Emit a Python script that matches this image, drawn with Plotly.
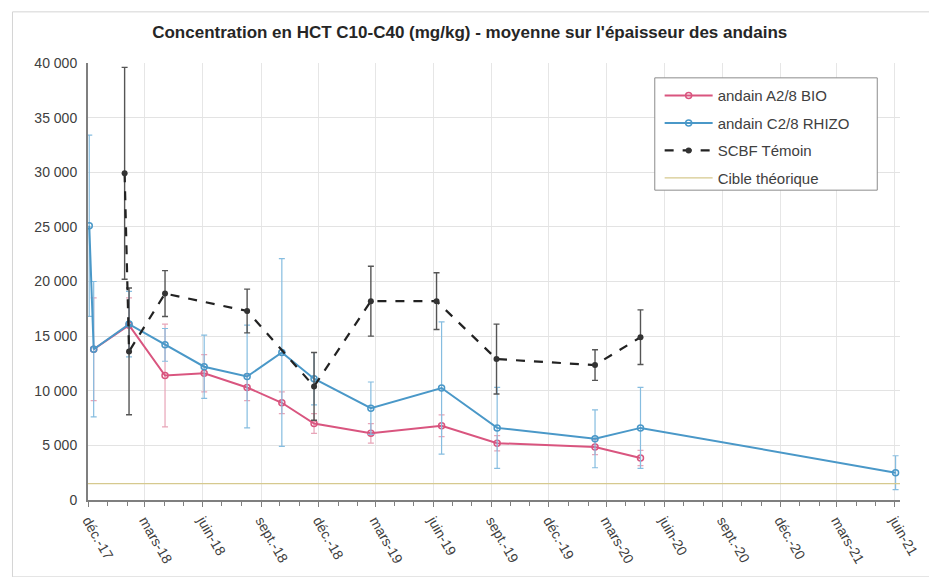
import plotly.graph_objects as go

# ---- data ----
blue_dates = ['2017-12-03', '2017-12-10', '2018-02-04', '2018-04-02', '2018-06-03', '2018-08-10',
              '2018-10-04', '2018-11-24', '2019-02-22', '2019-06-14', '2019-09-10', '2020-02-12',
              '2020-04-24', '2021-06-02']
blue_vals = [25100, 13800, 16100, 14200, 12200, 11300, 13500, 11100, 8400, 10250, 6600, 5600, 6600, 2500]
blue_err = [8300, 6200, 3000, 1500, 2900, 4700, 8600, 2400, 2400, 6050, 3700, 2650, 3700, 1550]

pink_dates = ['2017-12-10', '2018-02-04', '2018-04-02', '2018-06-03', '2018-08-10', '2018-10-04',
              '2018-11-24', '2019-02-22', '2019-06-14', '2019-09-10', '2020-02-12', '2020-04-24']
pink_vals = [13800, 16000, 11400, 11600, 10300, 8900, 7000, 6100, 6800, 5200, 4850, 3850]
pink_err = [4700, 2500, 4700, 1700, 1200, 1000, 900, 900, 1000, 700, 700, 700]

black_dates = ['2018-01-28', '2018-02-04', '2018-04-02', '2018-08-10', '2018-11-24', '2019-02-22',
               '2019-06-06', '2019-09-09', '2020-02-12', '2020-04-24']
black_vals = [29900, 13600, 18900, 17300, 10400, 18200, 18200, 12900, 12350, 14900]
black_err = [9700, 5800, 2100, 2000, 3100, 3200, 2600, 3200, 1400, 2500]

target_dates = ['2017-12-01', '2021-06-09']
target_vals = [1500, 1500]

tick_dates = ['2017-12-01', '2018-03-01', '2018-06-01', '2018-09-01', '2018-12-01', '2019-03-01',
              '2019-06-01', '2019-09-01', '2019-12-01', '2020-03-01', '2020-06-01', '2020-09-01',
              '2020-12-01', '2021-03-01', '2021-06-01']
tick_labels = ['déc.-17', 'mars-18', 'juin-18', 'sept.-18', 'déc.-18', 'mars-19', 'juin-19', 'sept.-19',
               'déc.-19', 'mars-20', 'juin-20', 'sept.-20', 'déc.-20', 'mars-21', 'juin-21']

PINK = '#d9557f'
BLUE = '#4a98c8'
BLACK = '#222222'
TARGET = '#d6c98e'

fig = go.Figure()

fig.add_trace(go.Scatter(
    x=pink_dates, y=pink_vals, name='andain A2/8 BIO', mode='lines+markers',
    line=dict(color=PINK, width=2),
    marker=dict(symbol='circle-open', size=6, color=PINK, line=dict(width=1.5)),
    error_y=dict(type='data', array=pink_err, color='#e8a5b8', thickness=1.2, width=3),
    legendgroup='a', legendrank=1))

fig.add_trace(go.Scatter(
    x=blue_dates, y=blue_vals, name='andain C2/8 RHIZO', mode='lines+markers',
    line=dict(color=BLUE, width=2),
    marker=dict(symbol='circle-open', size=6, color=BLUE, line=dict(width=1.5)),
    error_y=dict(type='data', array=blue_err, color='#86bde0', thickness=1.2, width=3),
    legendgroup='b', legendrank=2))

fig.add_trace(go.Scatter(
    x=black_dates, y=black_vals, name='SCBF Témoin', mode='lines+markers',
    line=dict(color=BLACK, width=2.2, dash='dash'),
    marker=dict(symbol='circle', size=6, color='#333333'),
    error_y=dict(type='data', array=black_err, color='#555555', thickness=1.4, width=3),
    legendgroup='c', legendrank=3))

fig.add_trace(go.Scatter(
    x=target_dates, y=target_vals, name='Cible théorique', mode='lines',
    line=dict(color=TARGET, width=1.3),
    legendgroup='d', legendrank=4))

# outer frame
fig.add_shape(type='rect', xref='paper', yref='paper',
              x0=-0.093, x1=1.044, y0=-0.176, y1=1.117,
              line=dict(color='#d4d4d4', width=1), layer='below')
# legend frame
fig.add_shape(type='rect', xref='paper', yref='paper',
              x0=0.698, x1=0.972, y0=0.709, y1=0.966,
              line=dict(color='#8c8c8c', width=1), fillcolor='white', layer='above')

fig.update_layout(
    width=929, height=569,
    margin=dict(l=80, r=37, t=55, b=77),
    paper_bgcolor='white', plot_bgcolor='white',
    separators=', ',
    font=dict(family='Liberation Sans, Arial, sans-serif', size=14, color='#404040'),
    title=dict(text='<b>Concentration en HCT C10-C40 (mg/kg) - moyenne sur l\'épaisseur des andains</b>',
               x=0.497, xanchor='center', y=0.958, yanchor='middle',
               font=dict(size=17, color='#262626')),
    legend=dict(x=0.704, y=0.963, xanchor='left', yanchor='top',
                bgcolor='rgba(0,0,0,0)', borderwidth=0,
                font=dict(size=15, color='#404040'), tracegroupgap=5,
                traceorder='grouped', itemwidth=48),
    showlegend=True,
)

fig.update_xaxes(
    type='date', range=['2017-12-01', '2021-06-09'],
    tickvals=tick_dates, ticktext=tick_labels, tickangle=60,
    showgrid=True, gridcolor='#e6e6e6', gridwidth=1,
    showline=True, linecolor='#7f7f7f', linewidth=2,
    ticks='outside', ticklen=5, tickcolor='#7f7f7f',
    minor=dict(dtick='M1', tick0='2017-12-01', ticks='outside', ticklen=4, tickcolor='#7f7f7f', showgrid=False),
    tickfont=dict(size=14, color='#404040'), zeroline=False)

fig.update_yaxes(
    range=[0, 40000], dtick=5000, tickformat=',d',
    showgrid=True, gridcolor='#e3e3e3', gridwidth=1,
    showline=True, linecolor='#7f7f7f', linewidth=2,
    ticks='', ticklabelstandoff=6, tickfont=dict(size=14, color='#404040'), zeroline=False)

fig.write_html('out.html')
